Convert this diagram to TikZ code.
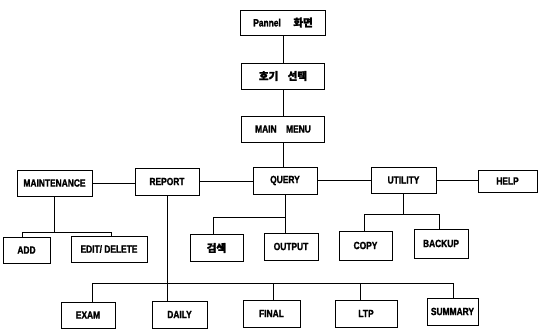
\documentclass[tikz,border=0pt]{standalone}
\usepackage{fontspec}
\setmainfont{Liberation Sans}[FakeStretch=0.8, BoldFeatures={FakeBold=1.5}]
\newfontfamily\kr{Noto Sans CJK KR}[FakeBold=2]
\begin{document}
\begin{tikzpicture}[x=1pt,y=-1pt,
  box/.style={draw, line width=0.8pt, inner sep=0pt, font=\bfseries\fontsize{10.5}{10.5}\selectfont},
  wire/.style={line width=0.8pt}]
\useasboundingbox (0,0) rectangle (539,329);
% top chain
\node[box, minimum width=85pt, minimum height=25pt] (pannel) at (283,22.5) {Pannel\hspace{1.2em}{\kr 화면}};
\node[box, minimum width=83pt, minimum height=26pt] (hogi) at (283,76) {{\kr 호기\hspace{0.9em}선택}};
\node[box, minimum width=83pt, minimum height=26pt] (mainm) at (283,129) {MAIN\hspace{0.9em}MENU};
% second row
\node[box, minimum width=75pt, minimum height=26pt] (maint) at (54.5,183) {MAINTENANCE};
\node[box, minimum width=64pt, minimum height=27pt] (report) at (167,181.5) {REPORT};
\node[box, minimum width=64pt, minimum height=27pt] (query) at (285,180.5) {QUERY};
\node[box, minimum width=65pt, minimum height=26pt] (utility) at (403.5,180) {UTILITY};
\node[box, minimum width=59pt, minimum height=22pt] (help) at (507.5,181) {HELP};
% third row
\node[box, minimum width=47pt, minimum height=26pt] (add) at (26.5,250) {ADD};
\node[box, minimum width=76pt, minimum height=26pt] (edit) at (109,249) {EDIT/ DELETE};
\node[box, minimum width=53pt, minimum height=27pt] (search) at (216.5,248) {{\kr 검색}};
\node[box, minimum width=54pt, minimum height=27pt] (output) at (291,246.5) {OUTPUT};
\node[box, minimum width=53pt, minimum height=29pt] (copy) at (365.5,245.5) {COPY};
\node[box, minimum width=54pt, minimum height=29pt] (backup) at (441,243.5) {BACKUP};
% bottom row
\node[box, minimum width=54pt, minimum height=26pt] (exam) at (88,315) {EXAM};
\node[box, minimum width=55pt, minimum height=27pt] (daily) at (179.5,314.5) {DAILY};
\node[box, minimum width=57pt, minimum height=27pt] (final) at (271.5,313.5) {FINAL};
\node[box, minimum width=62pt, minimum height=27pt] (ltp) at (366,313.5) {LTP};
\node[box, minimum width=51pt, minimum height=27pt] (summary) at (452.5,311.5) {SUMMARY};
% bus coordinates
\coordinate (mL) at (22,232);
\coordinate (mR) at (111,232);
\coordinate (qL) at (213,217);
\coordinate (uL) at (364,214);
\coordinate (uR) at (439,214);
\coordinate (rL) at (92,283);
\coordinate (rF) at (273,283);
\coordinate (rT) at (360,283);
\coordinate (rS) at (453,283);
% connectors
\draw[wire] (pannel) -- (hogi);
\draw[wire] (hogi) -- (mainm);
\draw[wire] (mainm.south) -- (mainm.south |- query.north);
\draw[wire] (maint.east) -- (maint.east -| report.west);
\draw[wire] (report.east) -- (report.east -| query.west);
\draw[wire] (query.east) -- (query.east -| utility.west);
\draw[wire] (utility.east) -- (utility.east -| help.west);
% maintenance children
\draw[wire] (maint.south) -- (maint.south |- mL);
\draw[wire] (mL |- add.north) -- (mL) -- (mR) -- (mR |- edit.north);
% query children
\draw[wire] (query.south) -- (query.south |- output.north);
\draw[wire] (qL |- search.north) -- (qL) -- (qL -| query.south);
% utility children
\draw[wire] (utility.south) -- (utility.south |- uL);
\draw[wire] (uL |- copy.north) -- (uL) -- (uR) -- (uR |- backup.north);
% report children
\draw[wire] (report.south) -- (report.south |- daily.north);
\draw[wire] (rL |- exam.north) -- (rL) -- (rS) -- (rS |- summary.north);
\draw[wire] (rF) -- (rF |- final.north);
\draw[wire] (rT) -- (rT |- ltp.north);
\end{tikzpicture}
\end{document}
